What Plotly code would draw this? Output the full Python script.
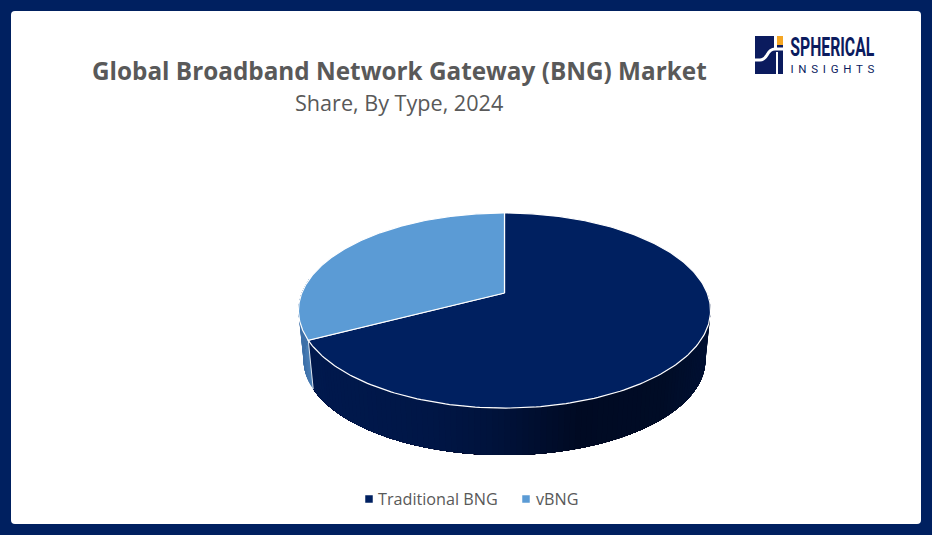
import numpy as np
import plotly.graph_objects as go

categories = ["Traditional BNG", "vBNG"]
shares = [67.4, 32.6]
colors = ["#002060", "#5B9BD5"]
side_shade = {"Traditional BNG": [(0.0, (0, 25, 78)), (0.33, (0, 22, 70)), (0.49, (0, 18, 58)), (0.69, (0, 10, 35)),
                                  (0.89, (0, 12, 38)), (1.0, (0, 16, 50))],
              "vBNG": [(0.0, (62, 112, 168)), (0.03, (80, 134, 188))]}
legend_marker_x = [369, 526]
legend_text_x = [378, 536]

W, H = 932, 535
CX = 504.5
PERSP = -0.1795
APEX_Y = 293.0
Y_GAIN = 41.8
X_GAIN = 202.7
DEPTH_SCALE = 0.975
DEPTH_TOP_Y = 310.5
DEPTH_BOTTOM_Y = 360.0
NAVY_LOGO = "#0B1B5E"


def project(theta):
    u = np.sin(theta)
    v = -np.cos(theta)
    d = 1 + PERSP * v
    return CX + X_GAIN * u / d, (Y_GAIN * v + APEX_Y) / d


def lower(x, y):
    return CX + (x - CX) * DEPTH_SCALE, DEPTH_BOTTOM_Y + (y - DEPTH_TOP_Y) * DEPTH_SCALE


def shade(stops, t):
    t = min(max(t, stops[0][0]), stops[-1][0])
    for (a, ca), (b, cb) in zip(stops, stops[1:]):
        if a <= t <= b:
            f = (t - a) / (b - a)
            c = [round(p + (q - p) * f) for p, q in zip(ca, cb)]
            return f"rgb({c[0]},{c[1]},{c[2]})"
    return f"rgb{stops[-1][1]}"


fig = go.Figure()
edges = np.cumsum([0] + shares) / sum(shares) * 2 * np.pi

# side wall, front half only; each strip runs on to the far end so no seams show
for cat, a0, a1 in zip(categories, edges[:-1], edges[1:]):
    lo, hi = max(a0, np.pi / 2 - 0.02), min(a1, 3 * np.pi / 2 + 0.15)
    if hi <= lo:
        continue
    steps = int((hi - lo) / 0.025) + 1
    grid = np.linspace(lo, hi, steps + 1)
    for i in range(steps):
        th = np.linspace(grid[i], hi, max(3, (steps - i) * 2))
        x, y = project(th)
        bx, by = lower(x, y)
        t = (x[0] - 300) / 410
        fig.add_trace(go.Scatter(x=np.r_[x, bx[::-1]], y=np.r_[y, by[::-1]], fill="toself",
                                 fillcolor=shade(side_shade[cat], t), mode="none",
                                 showlegend=False, hoverinfo="skip"))

# white seam between the two side walls
sx, sy = project(np.array([edges[1]]))
bx, by = lower(sx, sy)
fig.add_trace(go.Scatter(x=[sx[0], bx[0]], y=[sy[0], by[0]], mode="lines", line=dict(color="#DDE6F0", width=1),
                         showlegend=False, hoverinfo="skip"))

# top faces
for cat, col, a0, a1, share in zip(categories, colors, edges[:-1], edges[1:], shares):
    th = np.linspace(a0, a1, 240)
    x, y = project(th)
    fig.add_trace(go.Scatter(x=np.r_[CX, x, CX], y=np.r_[APEX_Y, y, APEX_Y], fill="toself", fillcolor=col,
                             mode="lines", line=dict(color="white", width=1.2), showlegend=False, name=cat,
                             hoverinfo="skip"))

# legend row
LEGEND_Y = 499
for cat, col, mx, tx in zip(categories, colors, legend_marker_x, legend_text_x):
    fig.add_trace(go.Scatter(x=[mx], y=[LEGEND_Y], mode="markers", marker=dict(symbol="square", size=7.5, color=col),
                             showlegend=False, hoverinfo="skip"))
    fig.add_trace(go.Scatter(x=[tx], y=[LEGEND_Y + 2], mode="text", text=[cat], textposition="middle right",
                             textfont=dict(family="Open Sans", size=16.2, color="#595959"),
                             showlegend=False, hoverinfo="skip"))

shapes = [
    dict(type="path", path="M 15 11 L 917 11 Q 921 11 921 15 L 921 520 Q 921 524 917 524 L 15 524 Q 11 524 11 520 L 11 15 Q 11 11 15 11 Z",
         fillcolor="white", line=dict(width=0), layer="below", xref="x", yref="y"),
    dict(type="rect", x0=755, x1=783, y0=36, y1=74, fillcolor=NAVY_LOGO, line=dict(width=0), xref="x", yref="y"),
    dict(type="rect", x0=777, x1=783, y0=36, y1=45, fillcolor="#F5A623", line=dict(width=0), xref="x", yref="y"),
    dict(type="rect", x0=774, x1=777, y0=36, y1=50, fillcolor="white", line=dict(width=0), xref="x", yref="y"),
    dict(type="rect", x0=776, x1=778, y0=52, y1=74, fillcolor="white", line=dict(width=0), xref="x", yref="y"),
    dict(type="path", path="M 755 60 L 760 60 Q 764 60 767 55 Q 770 49 775 49 L 783 49",
         line=dict(color="white", width=3), xref="x", yref="y"),
]

annotations = [
    dict(x=399.5, y=70, text="<b>Global Broadband Network Gateway (BNG) Market</b>", showarrow=False,
         font=dict(family="Open Sans", size=24.3, color="#595959")),
    dict(x=399, y=102, text="Share, By Type, 2024", showarrow=False,
         font=dict(family="Open Sans", size=21.6, color="#595959")),
    dict(x=832, y=47, xanchor="center", text="<b>SPHERICAL</b>", showarrow=False,
         font=dict(family="Roboto", size=26, color=NAVY_LOGO)),
    dict(x=832, y=69, xanchor="center", text="INSIGHTS", showarrow=False,
         font=dict(family="Roboto", size=11.5, color=NAVY_LOGO)),
]

fig.update_layout(
    width=W, height=H, margin=dict(l=0, r=0, t=0, b=0), autosize=False, showlegend=False,
    paper_bgcolor="#002060", plot_bgcolor="rgba(0,0,0,0)",
    xaxis=dict(range=[0, W], visible=False, fixedrange=True),
    yaxis=dict(range=[H, 0], visible=False, fixedrange=True),
    shapes=shapes, annotations=annotations,
)

fit_logo_text = """
document.body.style.margin = '0';
document.querySelectorAll('.annotation-text').forEach(function (el) {
  if (el.textContent === 'SPHERICAL') {
    el.setAttribute('textLength', '84');
    el.setAttribute('lengthAdjust', 'spacingAndGlyphs');
    var b = el.querySelector('tspan');
    if (b) { b.setAttribute('textLength', '84'); b.setAttribute('lengthAdjust', 'spacingAndGlyphs'); }
  }
  if (el.textContent === 'INSIGHTS') {
    el.setAttribute('textLength', '84');
    el.setAttribute('lengthAdjust', 'spacing');
  }
});
"""
fig.write_html("out.html", config={"displayModeBar": False}, post_script=fit_logo_text)
